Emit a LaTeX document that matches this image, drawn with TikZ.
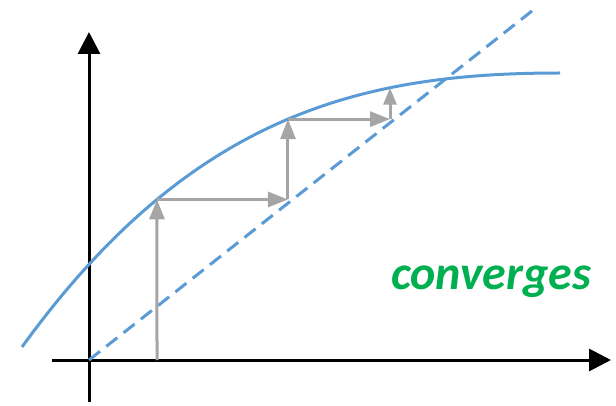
\documentclass[tikz,border=0pt]{standalone}
\usepackage{fontspec}
\setmainfont{Carlito}
\usetikzlibrary{arrows.meta,intersections}
\definecolor{curveblue}{RGB}{91,155,213}
\definecolor{arrowgray}{RGB}{165,165,165}
\definecolor{convgreen}{RGB}{0,176,80}
\begin{document}
\begin{tikzpicture}[x=1pt,y=-1pt,
  axisline/.style={line width=3pt,black,-{Triangle[length=22pt,width=22pt]}},
  fcurve/.style={line width=3pt,curveblue},
  diagline/.style={line width=3pt,curveblue,dash pattern=on 14pt off 8pt},
  cobweb/.style={line width=3pt,arrowgray,-{Triangle[length=20pt,width=15pt]}},
  lbl/.style={inner sep=0pt,anchor=base west,text=convgreen,font=\fontsize{48}{52}\selectfont\bfseries\itshape}]
\useasboundingbox (0,0) rectangle (616,406);
% axes
\coordinate (xs) at (52,360);
\coordinate (xe) at (611,360);
\coordinate (ys) at (89,402);
\coordinate (ye) at (89,32);
\draw[axisline] (xs) -- (xe);
\draw[axisline] (ys) -- (ye);
% diagonal y=x
\coordinate (o) at (89,360);
\coordinate (de) at (537,7);
\draw[diagline,name path=diag] (o) -- (de);
% curve
\coordinate (cs) at (22,347);
\coordinate (ce) at (560,73);
\draw[fcurve,name path=curve] (cs) .. controls (192,112) and (365,73) .. (ce);
% cobweb points on the curve
\coordinate (p0) at (157,360);
\path[name path=v1] (157,0) -- (157,406);
\path[name intersections={of=curve and v1,by=p1}];
\path[name path=v2] (288,0) -- (288,406);
\path[name intersections={of=curve and v2,by=p2}];
\path[name path=v3] (390,0) -- (390,406);
\path[name intersections={of=curve and v3,by=p3}];
\coordinate (q1) at (p2 |- p1);
\coordinate (q2) at (p3 |- p2);
\draw[cobweb] (p0) -- (p1);
\draw[cobweb] (p1) -- (q1);
\draw[cobweb] (q1) -- (p2);
\draw[cobweb] (p2) -- (q2);
\draw[cobweb,-{Triangle[length=17pt,width=13pt]}] (q2) -- (p3);
% label
\node[lbl] (conv) at (391,290) {converges};
\end{tikzpicture}
\end{document}
